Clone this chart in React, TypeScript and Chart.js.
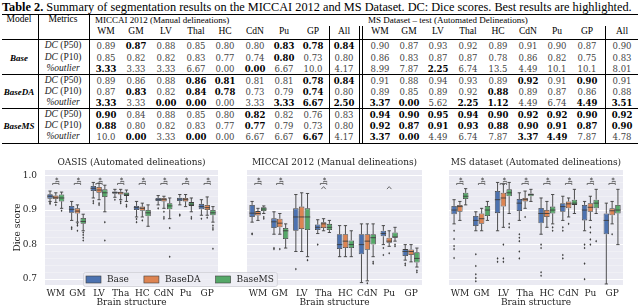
import React, { useEffect, useRef } from "react";
import { Chart, registerables } from "chart.js";
Chart.register(...registerables);

// ---------------- TABLE DATA ----------------
const tableColumns = ["WM", "GM", "LV", "Thal", "HC", "CdN", "Pu", "GP", "All"];
const modelNames = ["Base", "BaseDA", "BaseMS"];
// "!" prefix marks a bold (best) value
const miccaiBase = [
  ["0.89", "!0.87", "0.88", "0.85", "0.80", "0.80", "!0.83", "!0.78", "!0.84"],
  ["0.85", "0.82", "0.82", "0.83", "0.77", "0.74", "!0.80", "0.73", "0.80"],
  ["!3.33", "3.33", "3.33", "6.67", "0.00", "!0.00", "6.67", "10.0", "4.17"],
];
const miccaiBaseDA = [
  ["0.89", "0.86", "0.88", "!0.86", "!0.81", "0.81", "0.81", "!0.78", "!0.84"],
  ["0.87", "!0.83", "0.82", "!0.84", "!0.78", "0.73", "0.79", "!0.74", "0.80"],
  ["!3.33", "3.33", "!0.00", "!0.00", "0.00", "3.33", "!3.33", "!6.67", "!2.50"],
];
const miccaiBaseMS = [
  ["!0.90", "0.84", "0.88", "0.85", "0.80", "!0.82", "0.82", "0.76", "0.83"],
  ["!0.88", "0.80", "0.82", "0.83", "0.77", "!0.77", "0.79", "0.73", "0.80"],
  ["10.0", "!0.00", "3.33", "!0.00", "0.00", "6.67", "6.67", "!6.67", "4.17"],
];
const msBase = [
  ["0.90", "0.87", "0.93", "0.92", "0.89", "0.91", "0.90", "0.87", "0.90"],
  ["0.86", "0.83", "0.87", "0.87", "0.78", "0.86", "0.82", "0.75", "0.83"],
  ["8.99", "7.87", "!2.25", "6.74", "13.5", "4.49", "10.1", "10.1", "8.01"],
];
const msBaseDA = [
  ["0.91", "0.88", "0.94", "0.93", "0.89", "!0.92", "0.91", "!0.90", "0.91"],
  ["0.89", "0.85", "0.89", "0.92", "!0.88", "0.89", "0.87", "0.86", "0.88"],
  ["!3.37", "!0.00", "5.62", "!2.25", "!1.12", "4.49", "6.74", "!4.49", "!3.51"],
];
const msBaseMS = [
  ["!0.94", "!0.90", "!0.95", "!0.94", "!0.90", "!0.92", "!0.92", "!0.90", "!0.92"],
  ["!0.92", "!0.87", "!0.91", "!0.93", "!0.88", "!0.90", "!0.91", "!0.87", "!0.90"],
  ["!3.37", "!0.00", "4.49", "6.74", "7.87", "!3.37", "!4.49", "7.87", "4.78"],
];

// ---------------- BOXPLOT DATA ----------------
const structures = ["WM", "GM", "LV", "Tha", "HC", "CdN", "Pu", "GP"];
const seriesColors = ["#4c72b0", "#dd8452", "#55a868"];
const yTickValues = [0.7, 0.8, 0.9, 1.0];

// each box: [lowWhisker, q1, median, q3, highWhisker]
const oasisBase = [[0.925, 0.933, 0.94, 0.946, 0.955], [0.87, 0.892, 0.902, 0.912, 0.925], [0.935, 0.955, 0.963, 0.97, 0.98], [0.937, 0.947, 0.951, 0.954, 0.96], [0.88, 0.9, 0.907, 0.912, 0.925], [0.915, 0.926, 0.93, 0.935, 0.942], [0.915, 0.926, 0.932, 0.936, 0.945], [0.885, 0.902, 0.91, 0.918, 0.93]];
const oasisBaseOut = [[0.918, 0.921], [0.845, 0.85], [0.92, 0.926], [0.93], [0.865, 0.874], [0.905], [0.887, 0.884], [0.875]];
const oasisBaseDA = [[0.922, 0.932, 0.937, 0.942, 0.95], [0.865, 0.89, 0.897, 0.905, 0.915], [0.93, 0.95, 0.958, 0.967, 0.978], [0.93, 0.945, 0.95, 0.953, 0.96], [0.88, 0.898, 0.905, 0.91, 0.92], [0.905, 0.925, 0.93, 0.935, 0.94], [0.91, 0.925, 0.93, 0.935, 0.945], [0.885, 0.9, 0.907, 0.915, 0.938]];
const oasisBaseDAOut = [[0.915], [0.84, 0.855, 0.86], [0.92, 0.915], [0.925, 0.92], [0.87], [0.875, 0.88, 0.895], [], [0.878]];
const oasisBaseMS = [[0.905, 0.925, 0.935, 0.945, 0.952], [0.84, 0.86, 0.867, 0.877, 0.888], [0.895, 0.938, 0.95, 0.96, 0.972], [0.925, 0.941, 0.946, 0.951, 0.958], [0.853, 0.882, 0.892, 0.9, 0.915], [0.875, 0.902, 0.912, 0.92, 0.935], [0.895, 0.912, 0.917, 0.923, 0.935], [0.865, 0.885, 0.892, 0.9, 0.91]];
const oasisBaseMSOut = [[0.898], [0.835, 0.828, 0.82, 0.812], [0.865, 0.812], [0.915, 0.91], [], [0.848, 0.765], [0.88, 0.875], [0.855, 0.848, 0.843, 0.788]];

const miccaiBoxBase = [[0.865, 0.88, 0.891, 0.915, 0.925], [0.83, 0.848, 0.866, 0.876, 0.895], [0.78, 0.84, 0.88, 0.905, 0.945], [0.832, 0.842, 0.85, 0.858, 0.872], [0.765, 0.787, 0.8, 0.83, 0.855], [0.69, 0.772, 0.8, 0.83, 0.86], [0.8, 0.824, 0.832, 0.84, 0.855], [0.755, 0.767, 0.78, 0.787, 0.8]];
const miccaiBoxBaseOut = [[0.83, 0.832], [0.787, 0.79], [0.729], [0.8], [], [], [0.79, 0.77], [0.745, 0.74]];
const miccaiBoxBaseDA = [[0.87, 0.884, 0.89, 0.897, 0.905], [0.83, 0.85, 0.862, 0.875, 0.89], [0.78, 0.845, 0.88, 0.91, 0.95], [0.84, 0.848, 0.86, 0.865, 0.875], [0.765, 0.79, 0.81, 0.83, 0.855], [0.695, 0.785, 0.81, 0.83, 0.86], [0.795, 0.805, 0.81, 0.82, 0.84], [0.75, 0.77, 0.78, 0.786, 0.8]];
const miccaiBoxBaseDAOut = [[], [0.787], [], [], [], [0.688], [0.775], []];
const miccaiBoxBaseMS = [[0.89, 0.897, 0.903, 0.908, 0.912], [0.79, 0.816, 0.84, 0.848, 0.86], [0.765, 0.842, 0.88, 0.905, 0.948], [0.835, 0.842, 0.85, 0.86, 0.87], [0.765, 0.79, 0.8, 0.812, 0.84], [0.765, 0.8, 0.82, 0.83, 0.86], [0.81, 0.82, 0.822, 0.835, 0.85], [0.735, 0.748, 0.76, 0.778, 0.79]];
const miccaiBoxBaseMSOut = [[0.88, 0.875], [], [0.755], [], [], [0.75, 0.745], [0.8, 0.795], [0.725, 0.72]];

const msBoxBase = [[0.86, 0.888, 0.9, 0.912, 0.93], [0.84, 0.854, 0.87, 0.883, 0.895], [0.84, 0.891, 0.93, 0.955, 0.98], [0.87, 0.897, 0.92, 0.932, 0.95], [0.83, 0.862, 0.89, 0.906, 0.935], [0.87, 0.895, 0.91, 0.92, 0.94], [0.84, 0.87, 0.9, 0.915, 0.925], [0.686, 0.83, 0.87, 0.89, 0.92]];
const msBoxBaseOut = [[0.84, 0.816, 0.796, 0.787, 0.761], [0.772, 0.738, 0.714, 0.703, 0.694], [0.76, 0.75], [0.83, 0.82, 0.81, 0.78, 0.76], [0.8, 0.79, 0.72, 0.71], [0.85, 0.84, 0.77, 0.76], [0.79, 0.8, 0.745, 0.7], []];
const msBoxBaseDA = [[0.87, 0.895, 0.91, 0.915, 0.925], [0.84, 0.86, 0.875, 0.89, 0.905], [0.85, 0.91, 0.935, 0.95, 0.975], [0.905, 0.925, 0.93, 0.935, 0.955], [0.85, 0.88, 0.89, 0.9, 0.925], [0.88, 0.905, 0.918, 0.925, 0.935], [0.87, 0.895, 0.908, 0.92, 0.94], [0.86, 0.885, 0.898, 0.905, 0.925]];
const msBoxBaseDAOut = [[], [], [0.8, 0.76, 0.75], [0.88], [], [0.86], [0.85, 0.835, 0.815, 0.8], [0.83]];
const msBoxBaseMS = [[0.915, 0.932, 0.94, 0.95, 0.962], [0.87, 0.883, 0.9, 0.912, 0.925], [0.89, 0.94, 0.95, 0.96, 0.98], [0.925, 0.94, 0.945, 0.948, 0.96], [0.86, 0.89, 0.9, 0.91, 0.945], [0.89, 0.915, 0.92, 0.93, 0.96], [0.89, 0.905, 0.92, 0.93, 0.96], [0.8, 0.89, 0.9, 0.915, 0.96]];
const msBoxBaseMSOut = [[], [], [0.86, 0.85], [], [0.85, 0.84], [], [0.81], []];

// significance marks: 0 none, 1 star + brackets, 2 star + brackets + lower caret, 3 lower caret only
const oasisSig = [1, 1, 1, 1, 1, 1, 1, 1];
const miccaiSig = [1, 1, 0, 2, 0, 0, 3, 0];
const msSig = [1, 1, 1, 1, 1, 1, 1, 1];

// ---------------- STYLE ----------------
const SERIF = '"DejaVu Serif", serif';
const TIMES = '"Liberation Serif", "Times New Roman", serif';
const LINE = "#3d3d3d";
const FS = 9;

const isMajor = (v: number) => yTickValues.some((t) => Math.abs(t - v) < 1e-6);

const bgPlugin = {
  id: "areaBg",
  beforeDraw(chart: any) {
    const { ctx, chartArea: a } = chart;
    ctx.save();
    ctx.fillStyle = "#eaeaf2";
    ctx.fillRect(a.left, a.top, a.right - a.left, a.bottom - a.top);
    ctx.restore();
  },
};

const boxPlugin = {
  id: "boxWhisker",
  afterDatasetsDraw(chart: any) {
    const { ctx } = chart;
    const ys = chart.scales.y;
    chart.data.datasets.forEach((ds: any, i: number) => {
      const meta = chart.getDatasetMeta(i);
      meta.data.forEach((bar: any, j: number) => {
        const s = ds.stats[j];
        const x = bar.x;
        const w = bar.width;
        ctx.save();
        ctx.strokeStyle = LINE;
        ctx.lineWidth = 0.9;
        ctx.beginPath();
        const yl = ys.getPixelForValue(s[0]);
        const y1 = ys.getPixelForValue(s[1]);
        const ym = ys.getPixelForValue(s[2]);
        const y3 = ys.getPixelForValue(s[3]);
        const yh = ys.getPixelForValue(s[4]);
        ctx.moveTo(x, yl); ctx.lineTo(x, y1);
        ctx.moveTo(x, y3); ctx.lineTo(x, yh);
        const cw = w * 0.3;
        ctx.moveTo(x - cw, yl); ctx.lineTo(x + cw, yl);
        ctx.moveTo(x - cw, yh); ctx.lineTo(x + cw, yh);
        ctx.moveTo(x - w / 2, ym); ctx.lineTo(x + w / 2, ym);
        ctx.stroke();
        ctx.fillStyle = LINE;
        (ds.outliers[j] || []).forEach((v: number) => {
          const py = ys.getPixelForValue(v);
          ctx.beginPath();
          ctx.moveTo(x, py - 1.3); ctx.lineTo(x + 0.9, py); ctx.lineTo(x, py + 1.3); ctx.lineTo(x - 0.9, py);
          ctx.closePath();
          ctx.fill();
        });
        ctx.restore();
      });
    });
  },
};

const sigPlugin = {
  id: "sigMarks",
  afterDatasetsDraw(chart: any, _a: any, opts: any) {
    const sig: number[] = opts.marks || [];
    const { ctx } = chart;
    const ys = chart.scales.y;
    const m1 = chart.getDatasetMeta(1).data;
    const m2 = chart.getDatasetMeta(2).data;
    ctx.save();
    ctx.strokeStyle = "#4a4a4a";
    ctx.fillStyle = "#333";
    ctx.lineWidth = 0.8;
    const bracket = (xa: number, xb: number, v: number, d: number) => {
      const py = ys.getPixelForValue(v);
      ctx.beginPath();
      ctx.moveTo(xa, py + d); ctx.lineTo(xa, py); ctx.lineTo(xb, py); ctx.lineTo(xb, py + d);
      ctx.stroke();
    };
    sig.forEach((t, j) => {
      if (!t) return;
      const x1 = m1[j].x, x2 = m2[j].x;
      const c = x1;
      const hw = (x2 - x1) * 0.55;
      if (t === 1 || t === 2) {
        bracket(c - hw, c + hw, 0.977, 1.5);
        bracket(c, c + hw, 0.983, 1);
        ctx.font = "bold 6px " + SERIF;
        ctx.textAlign = "center";
        ctx.textBaseline = "middle";
        ctx.fillText("*", c + hw * 0.3, ys.getPixelForValue(0.99) + 1);
      }
      if (t === 2 || t === 3) {
        const py = ys.getPixelForValue(0.965);
        ctx.beginPath();
        ctx.moveTo(c - hw * 0.7, py + 1.5); ctx.lineTo(c, py - 1); ctx.lineTo(c + hw * 0.7, py + 1.5);
        ctx.stroke();
      }
    });
    ctx.restore();
  },
};

const legendPlugin = {
  id: "innerLegend",
  afterDraw(chart: any, _a: any, opts: any) {
    if (!opts || !opts.show) return;
    const { ctx, chartArea } = chart;
    ctx.save();
    ctx.font = "9px " + SERIF;
    const sw = 15, sh = 7, gapS = 6, gapI = 15, padX = 3;
    const items = chart.data.datasets.map((d: any) => ({ label: d.label, color: d.backgroundColor }));
    let total = padX * 2;
    items.forEach((it: any, i: number) => {
      total += sw + gapS + ctx.measureText(it.label).width + (i < items.length - 1 ? gapI : 0);
    });
    const h = 14;
    const x0 = chartArea.left + opts.offsetX;
    const y0 = chartArea.bottom - h + 1;
    ctx.fillStyle = "rgba(236,236,243,0.85)";
    ctx.strokeStyle = "#cfcfd6";
    ctx.lineWidth = 0.8;
    ctx.beginPath();
    ctx.roundRect(x0 + 0.5, y0 + 0.5, total, h, 2);
    ctx.fill();
    ctx.stroke();
    let x = x0 + padX;
    const cy = y0 + h / 2 + 0.5;
    items.forEach((it: any) => {
      ctx.fillStyle = it.color;
      ctx.fillRect(x, cy - sh / 2, sw, sh);
      ctx.strokeStyle = LINE;
      ctx.lineWidth = 0.6;
      ctx.strokeRect(x, cy - sh / 2, sw, sh);
      x += sw + gapS;
      ctx.fillStyle = "#262626";
      ctx.textBaseline = "middle";
      ctx.textAlign = "left";
      ctx.fillText(it.label, x, cy);
      x += ctx.measureText(it.label).width + gapI;
    });
    ctx.restore();
  },
};

type Panel = {
  title: string;
  stats: number[][][];
  outliers: number[][][];
  sig: number[];
  showY: boolean;
  legend: boolean;
  left: number;
  width: number;
  axisW: number;
  padR: number;
  z: number;
};

const panels: Panel[] = [
  { title: "OASIS (Automated delineations)", stats: [oasisBase, oasisBaseDA, oasisBaseMS], outliers: [oasisBaseOut, oasisBaseDAOut, oasisBaseMSOut], sig: oasisSig, showY: true, legend: true, left: 0, width: 290, axisW: 45, padR: 72, z: 3 },
  { title: "MICCAI 2012 (Manual delineations)", stats: [miccaiBoxBase, miccaiBoxBaseDA, miccaiBoxBaseMS], outliers: [miccaiBoxBaseOut, miccaiBoxBaseDAOut, miccaiBoxBaseMSOut], sig: miccaiSig, showY: false, legend: false, left: 222, width: 205, axisW: 25, padR: 5, z: 2 },
  { title: "MS dataset (Automated delineations)", stats: [msBoxBase, msBoxBaseDA, msBoxBaseMS], outliers: [msBoxBaseOut, msBoxBaseDAOut, msBoxBaseMSOut], sig: msSig, showY: false, legend: false, left: 427, width: 213, axisW: 22, padR: 17, z: 1 },
];

const CH_TOP = 150;
const CH_H = 160;

function BoxPanel({ p }: { p: Panel }) {
  const ref = useRef<HTMLCanvasElement | null>(null);
  useEffect(() => {
    if (!ref.current) return;
    const chart = new Chart(ref.current, {
      type: "bar",
      data: {
        labels: structures,
        datasets: modelNames.map((name, i) => ({
          label: name,
          data: p.stats[i].map((s) => [s[1], s[3]]),
          stats: p.stats[i],
          outliers: p.outliers[i],
          backgroundColor: seriesColors[i],
          borderColor: LINE,
          borderWidth: 0.8,
          borderSkipped: false,
          categoryPercentage: 0.8,
          barPercentage: 0.94,
        })) as any,
      },
      options: {
        responsive: false,
        animation: false,
        layout: { padding: { left: 0, right: p.padR, top: 0, bottom: 0 } },
        plugins: {
          legend: { display: false },
          tooltip: { enabled: false },
          title: {
            display: true,
            text: p.title,
            fullSize: false,
            color: "#262626",
            font: { family: SERIF, size: FS, weight: "normal" },
            padding: { top: 7.6, bottom: 1.6 },
          },
          innerLegend: { show: p.legend, offsetX: 38 },
          sigMarks: { marks: p.sig },
        } as any,
        scales: {
          x: {
            type: "category",
            grid: { display: false, drawTicks: false },
            border: { display: false },
            ticks: { color: "#262626", font: { family: SERIF, size: FS }, padding: 3, maxRotation: 0, autoSkip: false },
            title: { display: true, text: "Brain structure", color: "#262626", font: { family: SERIF, size: FS }, padding: { top: 0, bottom: 1.6 } },
            afterFit: (s: any) => { s.height = 25; },
          },
          y: {
            type: "linear",
            min: 0.683,
            max: 1.016,
            grid: {
              drawTicks: false,
              color: (c: any) => (isMajor(c.tick.value) ? "#ffffff" : "rgba(255,255,255,0.55)"),
              lineWidth: (c: any) => (isMajor(c.tick.value) ? 1 : 0.5),
            },
            border: { display: false },
            ticks: {
              display: p.showY,
              stepSize: 0.02,
              includeBounds: false,
              autoSkip: false,
              padding: 8,
              color: "#262626",
              font: { family: SERIF, size: FS },
              callback: (v: any) => (isMajor(Number(v)) ? Number(v).toFixed(1) : ""),
            },
            title: { display: p.showY, text: "Dice score", color: "#262626", font: { family: SERIF, size: FS }, padding: { top: 12, bottom: 0 } },
            afterFit: (s: any) => { s.width = p.axisW; },
          },
        },
      },
      plugins: [bgPlugin, boxPlugin, sigPlugin, legendPlugin],
    } as any);
    return () => chart.destroy();
  }, [p]);
  return (
    <canvas
      ref={ref}
      width={p.width}
      height={CH_H}
      style={{ position: "absolute", left: p.left, top: CH_TOP, width: p.width, height: CH_H, zIndex: p.z }}
    />
  );
}

// ---------------- TABLE LAYOUT ----------------
const miccaiX = [106, 136, 166, 196, 225, 255, 284, 313, 344];
const msX = [380, 409, 438, 468, 498, 528, 557, 587, 622];
const ROW_Y = [[46, 57.5, 69], [80.5, 92, 103], [114.5, 126, 137]];
const GROUP_RULES = [74.5, 108.5];

function T({ x, y, children, align = "center", size = 9, family = TIMES, bold = false, italic = false, color = "#000" }: any) {
  const tx = align === "center" ? "-50%" : align === "right" ? "-100%" : "0";
  return (
    <div
      style={{
        position: "absolute",
        left: x,
        top: y,
        transform: `translate(${tx}, -50%)`,
        whiteSpace: "nowrap",
        lineHeight: 1,
        fontFamily: family,
        fontSize: size,
        fontWeight: bold ? "bold" : "normal",
        fontStyle: italic ? "italic" : "normal",
        color,
      }}
    >
      {children}
    </div>
  );
}

function HLine({ y, x1 = 2, x2 = 638, t = 1 }: any) {
  return <div style={{ position: "absolute", left: x1, top: y - t / 2, width: x2 - x1, height: t, background: "#000" }} />;
}
function VLine({ x, y1, y2 }: any) {
  return <div style={{ position: "absolute", left: x - 0.5, top: y1, width: 0.8, height: y2 - y1, background: "#000" }} />;
}

function Num({ x, y, s }: any) {
  const bold = s.startsWith("!");
  const text = bold ? s.slice(1) : s;
  return (
    <T x={x} y={y} size={8.5} family={SERIF} bold={bold} color={bold ? "#000" : "#444"}>
      {text}
    </T>
  );
}

function Metric({ y, k }: any) {
  if (k === 2)
    return (
      <T x={63} y={y} size={9.5} family={TIMES} italic color="#222">
        %outlier
      </T>
    );
  return (
    <T x={63} y={y} size={9.5} color="#222">
      <i>DC</i> ({k === 0 ? "P50" : "P10"})
    </T>
  );
}

function Table() {
  const groupsM = [miccaiBase, miccaiBaseDA, miccaiBaseMS];
  const groupsS = [msBase, msBaseDA, msBaseMS];
  const cells: any[] = [];
  groupsM.forEach((g, gi) =>
    g.forEach((row, ri) => {
      row.forEach((s, ci) => cells.push(<Num key={`m${gi}${ri}${ci}`} x={miccaiX[ci]} y={ROW_Y[gi][ri]} s={s} />));
      groupsS[gi][ri].forEach((s, ci) => cells.push(<Num key={`s${gi}${ri}${ci}`} x={msX[ci]} y={ROW_Y[gi][ri]} s={s} />));
      cells.push(<Metric key={`k${gi}${ri}`} y={ROW_Y[gi][ri]} k={ri} />);
    })
  );
  return (
    <>
      <T x={2} y={7} align="left" size={12.3}>
        <b>Table 2.</b> Summary of segmentation results on the MICCAI 2012 and MS Dataset. DC: Dice scores. Best results are highlighted.
      </T>
      <HLine y={14} />
      <HLine y={39.5} t={1.2} />
      {GROUP_RULES.map((y) => (
        <HLine key={y} y={y} />
      ))}
      <HLine y={143} />
      <VLine x={38} y1={14} y2={143} />
      <VLine x={89} y1={14} y2={143} />
      <VLine x={329} y1={26} y2={143} />
      <VLine x={359} y1={26} y2={143} />
      <VLine x={362} y1={26} y2={143} />
      <VLine x={605} y1={26} y2={143} />
      <T x={19} y={20} size={9.5}>Model</T>
      <T x={63} y={20} size={9.5}>Metrics</T>
      <T x={95} y={20} align="left" size={9}>MICCAI 2012 (Manual delineations)</T>
      <T x={368} y={20} align="left" size={9}>MS Dataset – test (Automated Delineations)</T>
      {tableColumns.map((c, i) => (
        <T key={"hm" + i} x={miccaiX[i]} y={32} size={9.5}>{c}</T>
      ))}
      {tableColumns.map((c, i) => (
        <T key={"hs" + i} x={msX[i]} y={32} size={9.5}>{c}</T>
      ))}
      {modelNames.map((m, gi) => (
        <T key={m} x={19} y={ROW_Y[gi][1]} size={9} italic bold>
          {m}
        </T>
      ))}
      {cells}
    </>
  );
}

export default function App() {
  return (
    <div style={{ position: "fixed", left: 0, top: 0, width: 640, height: 307, background: "#fff", overflow: "hidden" }}>
      <Table />
      {panels.map((p, i) => (
        <BoxPanel key={i} p={p} />
      ))}
    </div>
  );
}
